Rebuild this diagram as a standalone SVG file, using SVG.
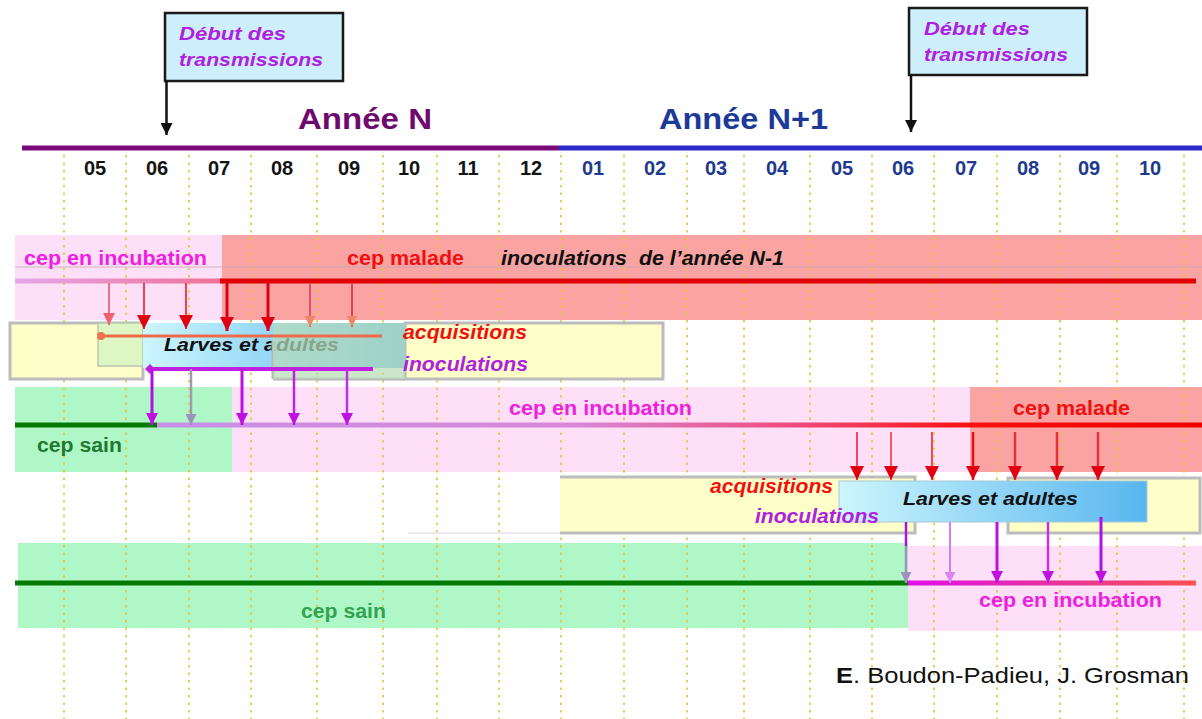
<svg xmlns="http://www.w3.org/2000/svg" width="1202" height="719" viewBox="0 0 1202 719">
<style>
text{font-family:"Liberation Sans",Arial,sans-serif;font-weight:bold}
.it{font-style:italic}
.mo{font-size:20px;text-anchor:middle}
.n{fill:#141414}
.n1{fill:#1e3a8e}
.dot{stroke:#e8c63c;stroke-width:2;stroke-dasharray:2.5 5;fill:none}
.pk{fill:#fde0f8}
.sa{fill:#f9a3a3}
.gr{fill:#b0f7c8}
.ye{fill:#fefec8;stroke:#bcbcbc;stroke-width:3}
.lab{font-size:20px}
.mag{fill:#f020e0}
.red{fill:#f01010}
.pur{fill:#b020e0}
.dbt{font-size:18px;fill:#b020e0}
</style>
<defs>
<linearGradient id="gBlue" x1="0" y1="0" x2="1" y2="0">
<stop offset="0" stop-color="#cdf6fd"/><stop offset="1" stop-color="#58b6ef"/>
</linearGradient>
<linearGradient id="gL1" gradientUnits="userSpaceOnUse" x1="15" y1="0" x2="222" y2="0">
<stop offset="0" stop-color="#e4a8e8"/><stop offset="1" stop-color="#f07098"/>
</linearGradient>
<linearGradient id="gL3" gradientUnits="userSpaceOnUse" x1="157" y1="0" x2="1202" y2="0">
<stop offset="0" stop-color="#c890e8"/><stop offset="0.4" stop-color="#d888d8"/><stop offset="0.62" stop-color="#f04878"/><stop offset="0.78" stop-color="#ff1010"/><stop offset="1" stop-color="#f00000"/>
</linearGradient>
<linearGradient id="gL5" gradientUnits="userSpaceOnUse" x1="908" y1="0" x2="1196" y2="0">
<stop offset="0" stop-color="#e010e8"/><stop offset="0.6" stop-color="#e83890"/><stop offset="1" stop-color="#ff5050"/>
</linearGradient>
<marker id="aRed" viewBox="0 0 10 10" refX="10" refY="5" markerWidth="14" markerHeight="14" markerUnits="userSpaceOnUse" orient="auto"><path d="M0,0 L10,5 L0,10 z" fill="#e00010"/></marker>
<marker id="aPink" viewBox="0 0 10 10" refX="10" refY="5" markerWidth="12" markerHeight="12" markerUnits="userSpaceOnUse" orient="auto"><path d="M0,0 L10,5 L0,10 z" fill="#f06070"/></marker>
<marker id="aSal" viewBox="0 0 10 10" refX="10" refY="5" markerWidth="11" markerHeight="11" markerUnits="userSpaceOnUse" orient="auto"><path d="M0,0 L10,5 L0,10 z" fill="#f08868"/></marker>
<marker id="aPur" viewBox="0 0 10 10" refX="10" refY="5" markerWidth="12" markerHeight="12" markerUnits="userSpaceOnUse" orient="auto"><path d="M0,0 L10,5 L0,10 z" fill="#c010e0"/></marker>
<marker id="aLpur" viewBox="0 0 10 10" refX="10" refY="5" markerWidth="11" markerHeight="11" markerUnits="userSpaceOnUse" orient="auto"><path d="M0,0 L10,5 L0,10 z" fill="#d888f0"/></marker>
<marker id="aGray" viewBox="0 0 10 10" refX="10" refY="5" markerWidth="11" markerHeight="11" markerUnits="userSpaceOnUse" orient="auto"><path d="M0,0 L10,5 L0,10 z" fill="#9c94bc"/></marker>
<marker id="aBlk" viewBox="0 0 10 10" refX="10" refY="5" markerWidth="12" markerHeight="12" markerUnits="userSpaceOnUse" orient="auto"><path d="M0,0 L10,5 L0,10 z" fill="#111"/></marker>
<marker id="mCirc" viewBox="0 0 10 10" refX="5" refY="5" markerWidth="8" markerHeight="8" markerUnits="userSpaceOnUse"><circle cx="5" cy="5" r="5" fill="#f07050"/></marker>
<marker id="mDia" viewBox="0 0 10 10" refX="5" refY="5" markerWidth="10" markerHeight="10" markerUnits="userSpaceOnUse"><path d="M5,0 L10,5 L5,10 L0,5 z" fill="#c020e0"/></marker>
</defs>
<rect width="1202" height="719" fill="#ffffff"/>

<g id="row1">
<rect class="pk" x="15" y="235" width="207" height="85"/>
<rect class="sa" x="222" y="235" width="980" height="85"/>
<line x1="15" y1="267" x2="1202" y2="267" stroke="#c8a8b0" stroke-width="0.8"/>
</g>
<g id="row3">
<rect class="gr" x="15" y="387" width="217" height="85"/>
<rect class="pk" x="232" y="387" width="738" height="85"/>
<rect class="sa" x="970" y="387" width="232" height="85"/>
</g>
<g id="row5">
<rect class="gr" x="18" y="543" width="890" height="85"/>
<rect class="pk" x="908" y="546" width="294" height="85"/>
</g>

<g id="grid" opacity="0.85">
<path class="dot" d="M64,155V719M126,155V719M189,155V719M251,155V719M317,155V719M383,155V719M437,155V719M499,155V719M561,155V719M624,155V719M687,155V719M744,155V719M810,155V719M872,155V719M934,155V719M997,155V719M1060,155V719M1117,155V719M1184,155V719"/>
</g>

<g id="timeline">
<line x1="22" y1="148" x2="559" y2="148" stroke="#7a0a7a" stroke-width="5"/>
<line x1="559" y1="148" x2="1202" y2="148" stroke="#2a2ac8" stroke-width="5"/>
<text x="298" y="129" font-size="29" fill="#6e0a6e" textLength="134" lengthAdjust="spacingAndGlyphs">Année N</text>
<text x="659" y="129" font-size="29" fill="#1c3a98" textLength="169" lengthAdjust="spacingAndGlyphs">Année N+1</text>
</g>

<g id="months">
<text class="mo n" x="95" y="175">05</text>
<text class="mo n" x="157" y="175">06</text>
<text class="mo n" x="219" y="175">07</text>
<text class="mo n" x="282" y="175">08</text>
<text class="mo n" x="349" y="175">09</text>
<text class="mo n" x="409" y="175">10</text>
<text class="mo n" x="468" y="175">11</text>
<text class="mo n" x="531" y="175">12</text>
<text class="mo n1" x="593" y="175">01</text>
<text class="mo n1" x="655" y="175">02</text>
<text class="mo n1" x="716" y="175">03</text>
<text class="mo n1" x="777" y="175">04</text>
<text class="mo n1" x="842" y="175">05</text>
<text class="mo n1" x="903" y="175">06</text>
<text class="mo n1" x="966" y="175">07</text>
<text class="mo n1" x="1028" y="175">08</text>
<text class="mo n1" x="1089" y="175">09</text>
<text class="mo n1" x="1150" y="175">10</text>
</g>

<g id="debut1">
<rect x="165" y="13" width="178" height="68" fill="#cdeffb" stroke="#1a1a1a" stroke-width="2.5"/>
<text class="it dbt" x="179" y="40" textLength="107" lengthAdjust="spacingAndGlyphs">Début des</text>
<text class="it dbt" x="179" y="66" textLength="144" lengthAdjust="spacingAndGlyphs">transmissions</text>
</g>
<g id="debut2">
<rect x="909" y="8" width="178" height="67" fill="#cdeffb" stroke="#1a1a1a" stroke-width="2.5"/>
<text class="it dbt" x="924" y="35" textLength="106" lengthAdjust="spacingAndGlyphs">Début des</text>
<text class="it dbt" x="924" y="61" textLength="144" lengthAdjust="spacingAndGlyphs">transmissions</text>
</g>

<g id="row1-labels">
<text class="lab mag" x="24" y="265" textLength="183" lengthAdjust="spacingAndGlyphs">cep en incubation</text>
<text class="lab red" x="347" y="265" textLength="117" lengthAdjust="spacingAndGlyphs">cep malade</text>
<text class="lab it" x="501" y="265" fill="#111" textLength="283" lengthAdjust="spacingAndGlyphs">inoculations&#160; de l’année N-1</text>
</g>

<g id="vectors1">
<rect class="ye" x="10" y="323" width="133" height="56"/>
<rect class="ye" x="405" y="323" width="258" height="56"/>
<rect x="98" y="323" width="45" height="43" fill="#def6c4" stroke="#b8c8b0" stroke-width="1.5"/>
<rect x="143" y="323" width="262" height="45" fill="url(#gBlue)"/>
<text class="it" x="164" y="351" font-size="19" fill="#111" textLength="175" lengthAdjust="spacingAndGlyphs">Larves et adultes</text>
<path d="M273,379 V340 M273,379 H405" stroke="#b8b8b8" stroke-width="3" fill="none"/>
<rect x="273" y="323" width="132" height="56" fill="#b8dcb8" fill-opacity="0.72"/>
<text class="lab it red" x="403" y="339" textLength="124" lengthAdjust="spacingAndGlyphs">acquisitions</text>
<text class="lab it pur" x="403" y="371" textLength="125" lengthAdjust="spacingAndGlyphs">inoculations</text>
</g>

<g id="row3-labels">
<text class="lab mag" x="509" y="415" textLength="183" lengthAdjust="spacingAndGlyphs">cep en incubation</text>
<text class="lab red" x="1013" y="415" textLength="117" lengthAdjust="spacingAndGlyphs">cep malade</text>
<text class="lab" x="37" y="452" fill="#1f7a30" textLength="85" lengthAdjust="spacingAndGlyphs">cep sain</text>
</g>

<g id="vectors2">
<rect x="560" y="477" width="355" height="56" fill="#fefec8"/>
<path d="M560,477 H915 V533 H560" stroke="#bcbcbc" stroke-width="3" fill="none"/>
<line x1="408" y1="533" x2="560" y2="533" stroke="#e4e4e4" stroke-width="1.5"/>
<rect class="ye" x="1008" y="478" width="192" height="55"/>
<rect x="839" y="481" width="308" height="41" fill="url(#gBlue)" stroke="#a8c8d8" stroke-width="1"/>
<text class="it" x="903" y="505" font-size="19" fill="#111" textLength="175" lengthAdjust="spacingAndGlyphs">Larves et adultes</text>
<text class="lab it red" x="710" y="493" textLength="123" lengthAdjust="spacingAndGlyphs">acquisitions</text>
<text class="lab it pur" x="755" y="523" textLength="124" lengthAdjust="spacingAndGlyphs">inoculations</text>
</g>

<g id="row5-labels">
<text class="lab" x="301" y="618" fill="#30a450" textLength="85" lengthAdjust="spacingAndGlyphs">cep sain</text>
<text class="lab mag" x="979" y="607" textLength="183" lengthAdjust="spacingAndGlyphs">cep en incubation</text>
</g>

<g id="connectors" fill="none">
<line x1="166.5" y1="81" x2="166.5" y2="135" stroke="#111" stroke-width="2.5" marker-end="url(#aBlk)"/>
<line x1="911" y1="75" x2="911" y2="132" stroke="#111" stroke-width="2.5" marker-end="url(#aBlk)"/>
<line x1="15" y1="281" x2="222" y2="281" stroke="url(#gL1)" stroke-width="5"/>
<line x1="220" y1="281" x2="1196" y2="281" stroke="#e00008" stroke-width="5"/>
<line x1="15" y1="425" x2="157" y2="425" stroke="#047a04" stroke-width="5"/>
<line x1="157" y1="425" x2="1202" y2="425" stroke="url(#gL3)" stroke-width="5"/>
<line x1="15" y1="583" x2="908" y2="583" stroke="#047a04" stroke-width="5"/>
<line x1="908" y1="583" x2="1196" y2="583" stroke="url(#gL5)" stroke-width="5"/>
<line x1="101" y1="336" x2="382" y2="336" stroke="#f06a4a" stroke-width="3" marker-start="url(#mCirc)"/>
<line x1="150" y1="369" x2="373" y2="369" stroke="#c020e0" stroke-width="4" marker-start="url(#mDia)"/>
<line x1="109" y1="283" x2="109" y2="325" stroke="#f07080" stroke-width="2" marker-end="url(#aPink)"/>
<line x1="144" y1="283" x2="144" y2="329" stroke="#f04050" stroke-width="2" marker-end="url(#aRed)"/>
<line x1="186" y1="283" x2="186" y2="329" stroke="#f04050" stroke-width="2" marker-end="url(#aRed)"/>
<line x1="227" y1="283" x2="227" y2="331" stroke="#e00010" stroke-width="3" marker-end="url(#aRed)"/>
<line x1="268" y1="283" x2="268" y2="331" stroke="#e00010" stroke-width="3" marker-end="url(#aRed)"/>
<line x1="310" y1="283" x2="310" y2="327" stroke="#e85060" stroke-width="2" marker-end="url(#aSal)"/>
<line x1="352" y1="283" x2="352" y2="327" stroke="#e84050" stroke-width="2" marker-end="url(#aSal)"/>
<line x1="152" y1="369" x2="152" y2="425" stroke="#b010e0" stroke-width="3" marker-end="url(#aPur)"/>
<line x1="191" y1="369" x2="191" y2="425" stroke="#a098b8" stroke-width="2.5" marker-end="url(#aGray)"/>
<line x1="242" y1="369" x2="242" y2="425" stroke="#c010e0" stroke-width="3" marker-end="url(#aPur)"/>
<line x1="294" y1="369" x2="294" y2="425" stroke="#c020e0" stroke-width="2.5" marker-end="url(#aPur)"/>
<line x1="347" y1="369" x2="347" y2="425" stroke="#c030e0" stroke-width="2.5" marker-end="url(#aPur)"/>
<line x1="857" y1="432" x2="857" y2="480" stroke="#f04858" stroke-width="2" marker-end="url(#aRed)"/>
<line x1="891" y1="432" x2="891" y2="480" stroke="#f05868" stroke-width="2" marker-end="url(#aRed)"/>
<line x1="932" y1="432" x2="932" y2="480" stroke="#f04858" stroke-width="2" marker-end="url(#aRed)"/>
<line x1="973" y1="432" x2="973" y2="480" stroke="#e01020" stroke-width="2.5" marker-end="url(#aRed)"/>
<line x1="1015" y1="432" x2="1015" y2="480" stroke="#e83038" stroke-width="2.5" marker-end="url(#aRed)"/>
<line x1="1057" y1="432" x2="1057" y2="480" stroke="#e83038" stroke-width="2.5" marker-end="url(#aRed)"/>
<line x1="1098" y1="432" x2="1098" y2="480" stroke="#e83038" stroke-width="2.5" marker-end="url(#aRed)"/>
<line x1="906" y1="522" x2="906" y2="546" stroke="#b010e0" stroke-width="2.5"/>
<line x1="906" y1="546" x2="906" y2="583" stroke="#9c94bc" stroke-width="2.5" marker-end="url(#aGray)"/>
<line x1="950" y1="522" x2="950" y2="583" stroke="#d080f0" stroke-width="2" marker-end="url(#aLpur)"/>
<line x1="997" y1="522" x2="997" y2="583" stroke="#c010e0" stroke-width="3" marker-end="url(#aPur)"/>
<line x1="1048" y1="522" x2="1048" y2="583" stroke="#c830e0" stroke-width="2.5" marker-end="url(#aPur)"/>
<line x1="1101" y1="517" x2="1101" y2="583" stroke="#b010e0" stroke-width="3" marker-end="url(#aPur)"/>
</g>

<g id="credit">
<text x="836" y="683" font-size="22" style="font-weight:normal" fill="#111" textLength="353" lengthAdjust="spacingAndGlyphs"><tspan style="font-weight:bold">E</tspan>. Boudon-Padieu, J. Grosman</text>
</g>
</svg>
